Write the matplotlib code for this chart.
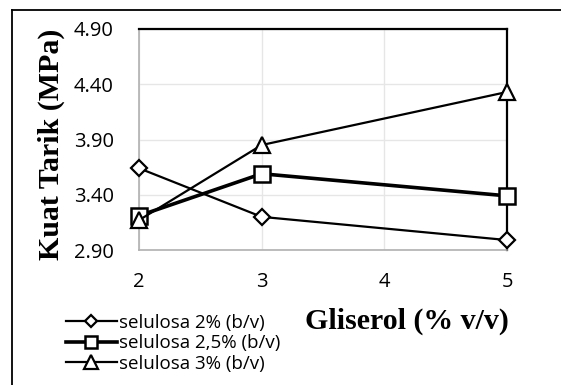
import matplotlib
matplotlib.use("Agg")
import matplotlib.pyplot as plt
from matplotlib.lines import Line2D

gliserol = [2, 3, 5]
sel_2 = [3.64, 3.20, 2.99]
sel_25 = [3.21, 3.59, 3.39]
sel_3 = [3.17, 3.85, 4.33]
labels = ["selulosa 2% (b/v)", "selulosa 2,5% (b/v)", "selulosa 3% (b/v)"]
yticks = [2.90, 3.40, 3.90, 4.40, 4.90]
xticks = [2, 3, 4, 5]

W, H = 561, 385
fig = plt.figure(figsize=(W / 100, H / 100), dpi=100)
ax = fig.add_axes([139 / W, 1 - 250 / H, (507 - 139) / W, (250 - 29) / H])

tick_font = ["Open Sans", "DejaVu Sans"]
h1, = ax.plot(gliserol, sel_2, color="black", lw=1.6, marker="D", ms=8,
              mfc="white", mec="black", mew=1.6, clip_on=False, zorder=3)
h2, = ax.plot(gliserol, sel_25, color="black", lw=2.6, marker="s", ms=11,
              mfc="white", mec="black", mew=1.8, clip_on=False, zorder=3)
h3, = ax.plot(gliserol, sel_3, color="black", lw=1.6, marker="^", ms=12,
              mfc="white", mec="black", mew=1.6, clip_on=False, zorder=3)

ax.set_xlim(2, 5)
ax.set_ylim(2.90, 4.90)
ax.set_xticks(xticks)
ax.set_yticks(yticks)
ax.set_xticklabels([str(x) for x in xticks], fontfamily=tick_font, fontsize=14.5)
ax.set_yticklabels([f"{y:.2f}" for y in yticks], fontfamily=tick_font, fontsize=14.5)
ax.tick_params(axis="y", length=0, pad=18)
ax.tick_params(axis="x", length=0, pad=16)
ax.grid(True, color="#e6e6e6", lw=1)
ax.set_axisbelow(True)
for s in ["left", "bottom"]:
    ax.spines[s].set_color("#b0b0b0")
    ax.spines[s].set_linewidth(1.2)
for s in ["top", "right"]:
    ax.spines[s].set_color("black")
    ax.spines[s].set_linewidth(1.6)

fig.text(51 / W, 1 - 144 / H, "Kuat Tarik (MPa)", rotation=90, ha="center",
         va="center", fontfamily=["Liberation Serif"], fontweight="bold", fontsize=21.5)
fig.text(407 / W, 1 - 321 / H, "Gliserol (% v/v)", ha="center", va="center",
         fontfamily=["Liberation Serif"], fontweight="bold", fontsize=21.5)

leg = fig.legend([h1, h2, h3], labels, loc="upper left",
                 bbox_to_anchor=(66 / W, 1 - 314 / H), frameon=False,
                 prop={"family": tick_font, "size": 13.5}, handlelength=2.7,
                 handletextpad=0.15, labelspacing=0.12, borderpad=0, borderaxespad=0,
                 markerscale=0.8)

fig.add_artist(Line2D([12 / W, 12 / W], [0, 1 - 10 / H], transform=fig.transFigure,
                      color="black", lw=1.3))
fig.add_artist(Line2D([12 / W, 1], [1 - 10 / H, 1 - 10 / H], transform=fig.transFigure,
                      color="black", lw=1.3))

fig.savefig("out.png", dpi=100)
